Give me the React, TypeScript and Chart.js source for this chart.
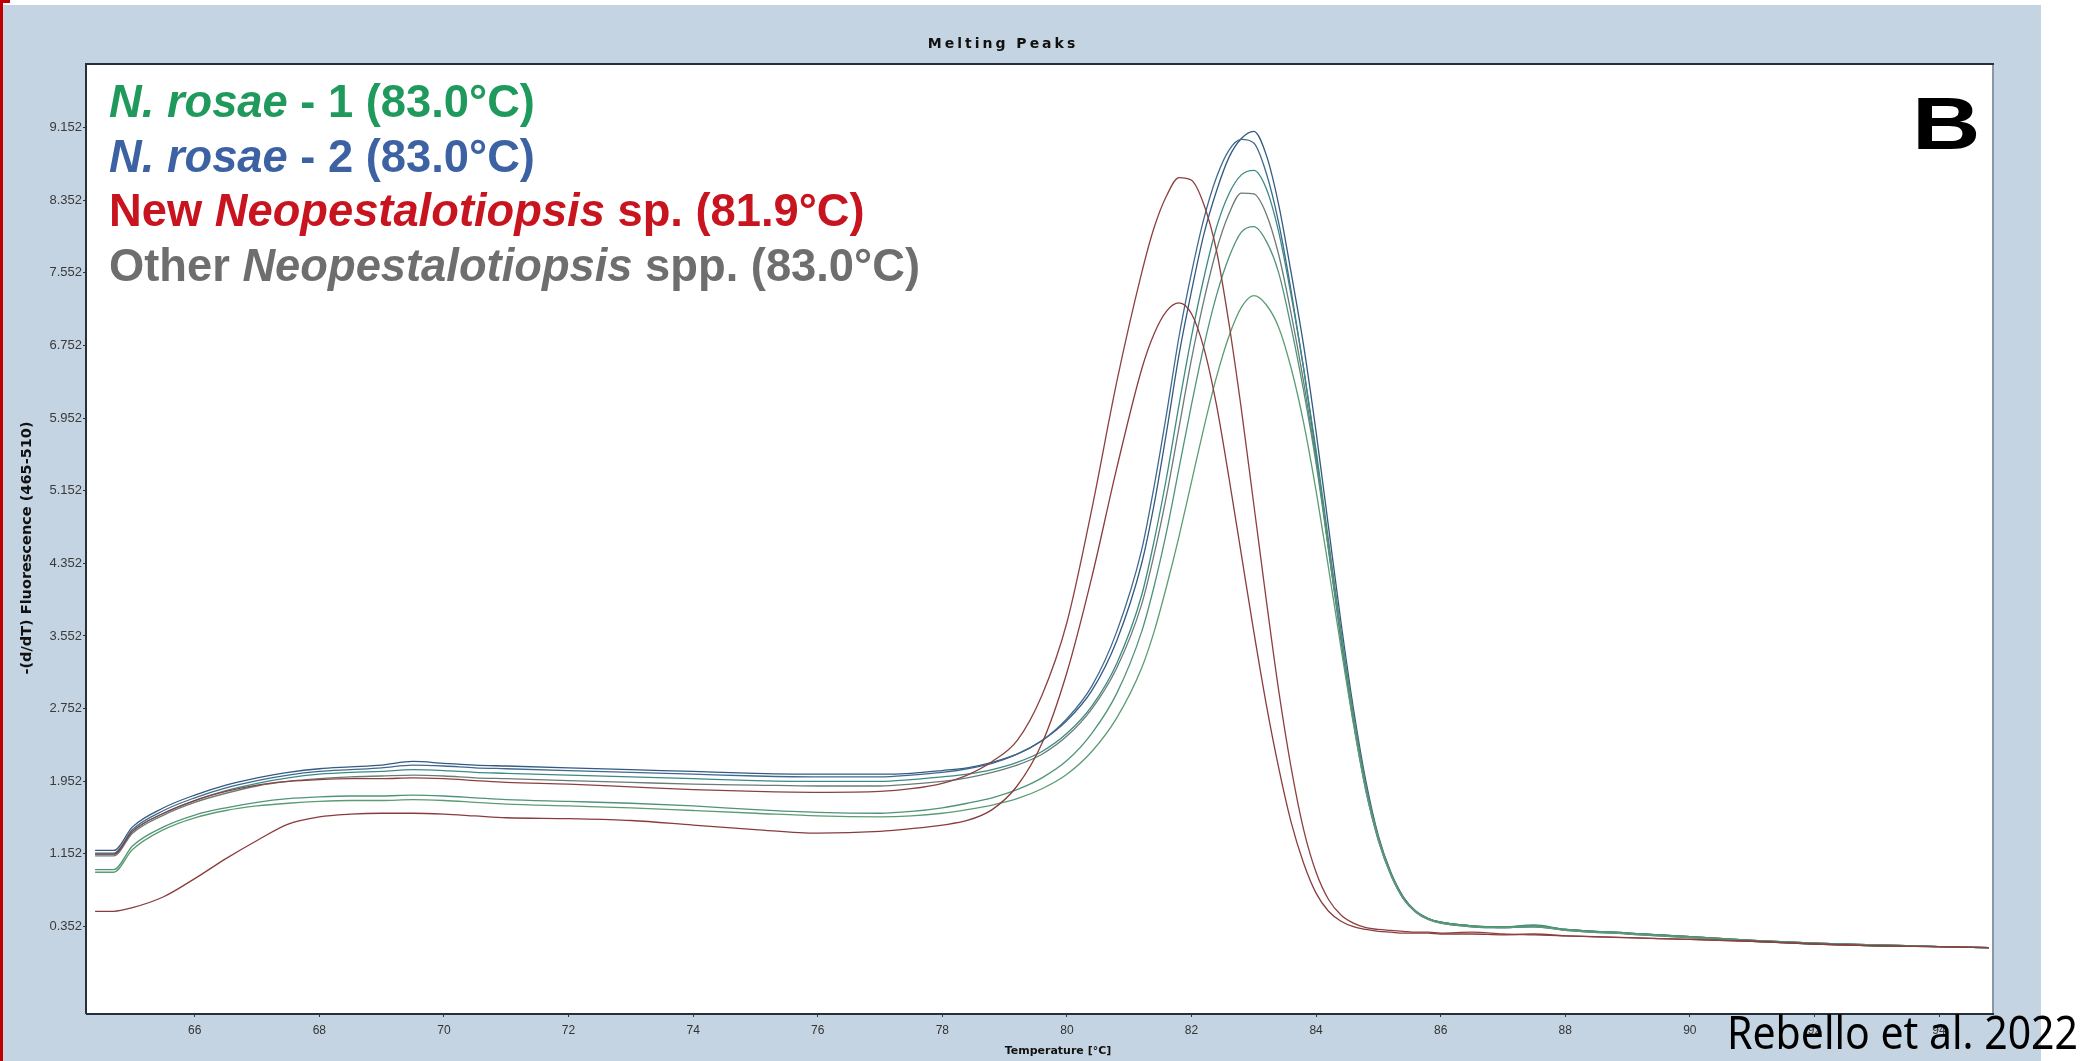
import React, { useEffect, useRef } from "react";
import { Chart, registerables } from "chart.js";

Chart.register(...registerables);

// ---------- DATA ----------
const temperatures = [
  64.4, 64.7, 65.0, 65.5, 66.0, 66.5, 67.0, 67.5, 68.0, 68.5,
  69.0, 69.5, 70.0, 70.5, 71.0, 72.0, 73.0, 74.0, 75.0, 76.0,
  77.0, 77.5, 78.0, 78.4, 78.8, 79.2, 79.6, 80.0, 80.4, 80.8,
  81.2, 81.4, 81.6, 81.8, 82.0, 82.2, 82.4, 82.6, 82.8, 83.0,
  83.2, 83.4, 83.6, 83.8, 84.0, 84.2, 84.4, 84.6, 84.8, 85.0,
  85.2, 85.4, 85.6, 85.8, 86.0, 86.5, 87.0, 87.5, 88.0, 89.0,
  90.0, 91.0, 92.0, 93.0, 94.0, 94.8,
];

// N. rosae - 2 (two samples)
const rosae2a = [
  1.19, 1.19, 1.45, 1.66, 1.80, 1.91, 1.99, 2.05, 2.09, 2.11,
  2.13, 2.17, 2.15, 2.13, 2.12, 2.10, 2.08, 2.06, 2.04, 2.03,
  2.03, 2.04, 2.07, 2.10, 2.16, 2.25, 2.40, 2.62, 2.95, 3.50,
  4.35, 5.00, 5.80, 6.65, 7.35, 7.98, 8.45, 8.82, 9.03, 9.11,
  8.85, 8.30, 7.55, 6.75, 5.80, 4.75, 3.70, 2.75, 1.95, 1.35,
  0.95, 0.68, 0.52, 0.44, 0.40, 0.36, 0.34, 0.36, 0.32, 0.28,
  0.24, 0.20, 0.17, 0.15, 0.13, 0.12,
];
const rosae2b = [
  1.16, 1.16, 1.42, 1.63, 1.77, 1.88, 1.96, 2.02, 2.06, 2.08,
  2.10, 2.13, 2.12, 2.10, 2.09, 2.07, 2.05, 2.03, 2.01, 2.00,
  2.00, 2.02, 2.05, 2.09, 2.15, 2.25, 2.40, 2.64, 3.00, 3.60,
  4.50, 5.20, 6.00, 6.85, 7.55, 8.15, 8.60, 8.90, 9.02, 8.98,
  8.65, 8.10, 7.35, 6.50, 5.55, 4.50, 3.50, 2.60, 1.85, 1.30,
  0.92, 0.66, 0.51, 0.43, 0.39, 0.35, 0.34, 0.35, 0.31, 0.27,
  0.23, 0.19, 0.16, 0.14, 0.13, 0.12,
];
// N. rosae - 1 (two samples)
const rosae1a = [
  1.15, 1.15, 1.40, 1.60, 1.74, 1.85, 1.93, 1.99, 2.03, 2.05,
  2.06, 2.08, 2.07, 2.05, 2.04, 2.02, 2.00, 1.98, 1.96, 1.95,
  1.95, 1.97, 2.00, 2.03, 2.08, 2.16, 2.28, 2.48, 2.78, 3.25,
  4.00, 4.60, 5.30, 6.10, 6.85, 7.50, 8.05, 8.42, 8.63, 8.68,
  8.48, 8.00, 7.30, 6.50, 5.60, 4.60, 3.60, 2.68, 1.90, 1.33,
  0.94, 0.67, 0.52, 0.44, 0.40, 0.36, 0.35, 0.37, 0.32, 0.28,
  0.24, 0.20, 0.17, 0.15, 0.13, 0.12,
];
const rosae1b = [
  0.98, 0.98, 1.24, 1.45, 1.58, 1.66, 1.72, 1.76, 1.78, 1.79,
  1.79, 1.80, 1.79, 1.77, 1.75, 1.73, 1.71, 1.68, 1.64, 1.61,
  1.60, 1.62, 1.66, 1.71, 1.77, 1.86, 1.99, 2.18, 2.48, 2.92,
  3.60, 4.10, 4.70, 5.40, 6.10, 6.75, 7.30, 7.72, 8.00, 8.06,
  7.90, 7.55, 6.95, 6.25, 5.45, 4.50, 3.55, 2.65, 1.88, 1.32,
  0.93, 0.66, 0.52, 0.44, 0.40, 0.36, 0.35, 0.36, 0.32, 0.28,
  0.24, 0.20, 0.17, 0.15, 0.13, 0.12,
];
// Other Neopestalotiopsis spp. (two samples)
const otherA = [
  1.13, 1.13, 1.38, 1.58, 1.72, 1.82, 1.90, 1.95, 1.98, 2.00,
  2.01, 2.02, 2.01, 1.99, 1.98, 1.96, 1.94, 1.92, 1.91, 1.90,
  1.90, 1.92, 1.95, 1.99, 2.05, 2.13, 2.25, 2.45, 2.75, 3.20,
  3.90, 4.45, 5.10, 5.85, 6.60, 7.25, 7.80, 8.20, 8.43, 8.42,
  8.20, 7.75, 7.10, 6.35, 5.50, 4.55, 3.58, 2.68, 1.90, 1.33,
  0.94, 0.67, 0.52, 0.44, 0.40, 0.36, 0.35, 0.36, 0.32, 0.28,
  0.24, 0.20, 0.17, 0.15, 0.13, 0.12,
];
const otherB = [
  0.95, 0.95, 1.20, 1.42, 1.55, 1.63, 1.68, 1.71, 1.73, 1.74,
  1.74, 1.75, 1.74, 1.72, 1.70, 1.68, 1.66, 1.63, 1.60, 1.57,
  1.56, 1.57, 1.60, 1.64, 1.69, 1.76, 1.87, 2.03, 2.28, 2.65,
  3.20, 3.60, 4.10, 4.65, 5.25, 5.85, 6.40, 6.85, 7.17, 7.30,
  7.20, 6.95, 6.50, 5.90, 5.15, 4.30, 3.42, 2.58, 1.84, 1.30,
  0.92, 0.66, 0.51, 0.43, 0.39, 0.35, 0.34, 0.35, 0.31, 0.27,
  0.23, 0.19, 0.16, 0.14, 0.13, 0.12,
];
// New Neopestalotiopsis sp. (two samples)
const newSpA = [
  1.15, 1.15, 1.40, 1.60, 1.74, 1.84, 1.91, 1.95, 1.97, 1.98,
  1.98, 1.99, 1.98, 1.96, 1.94, 1.92, 1.89, 1.86, 1.84, 1.83,
  1.84, 1.87, 1.93, 2.02, 2.17, 2.40, 2.90, 3.70, 4.95, 6.35,
  7.55, 8.05, 8.40, 8.60, 8.57, 8.30, 7.80, 7.00, 6.05, 5.00,
  3.95, 2.95, 2.10, 1.42, 0.95, 0.65, 0.48, 0.39, 0.34, 0.32,
  0.31, 0.30, 0.29, 0.29, 0.28, 0.29, 0.27, 0.26, 0.25, 0.23,
  0.21, 0.19, 0.16, 0.14, 0.13, 0.12,
];
const newSpB = [
  0.52, 0.52, 0.56, 0.68, 0.88, 1.10, 1.30, 1.48, 1.56, 1.59,
  1.60, 1.60, 1.59, 1.57, 1.55, 1.54, 1.52, 1.47, 1.42, 1.38,
  1.40, 1.43, 1.47, 1.52, 1.64, 1.90, 2.37, 3.15, 4.20, 5.40,
  6.49, 6.88, 7.13, 7.22, 7.10, 6.72, 6.10, 5.30, 4.45, 3.60,
  2.80, 2.10, 1.50, 1.05, 0.72, 0.52, 0.41, 0.35, 0.32, 0.30,
  0.29, 0.28, 0.28, 0.28, 0.27, 0.27, 0.26, 0.27, 0.25, 0.23,
  0.21, 0.19, 0.16, 0.14, 0.13, 0.12,
];

const xTickValues = [66, 68, 70, 72, 74, 76, 78, 80, 82, 84, 86, 88, 90, 92, 94];
const yTickValues = [0.352, 1.152, 1.952, 2.752, 3.552, 4.352, 5.152, 5.952, 6.752, 7.552, 8.352, 9.152];

const chartTitle = "Melting Peaks";
const xAxisTitle = "Temperature [°C]";
const yAxisTitle = "-(d/dT) Fluorescence (465-510)";
const panelLetter = "B";
const creditText = "Rebello et al. 2022";

type Seg = { t: string; i: boolean };
const legendEntries: { color: string; segs: Seg[] }[] = [
  { color: "#1f9a5c", segs: [{ t: "N. rosae", i: true }, { t: " - 1 (83.0°C)", i: false }] },
  { color: "#3d62a3", segs: [{ t: "N. rosae", i: true }, { t: " - 2 (83.0°C)", i: false }] },
  { color: "#c8141f", segs: [{ t: "New ", i: false }, { t: "Neopestalotiopsis", i: true }, { t: " sp. (81.9°C)", i: false }] },
  { color: "#6e6e6e", segs: [{ t: "Other ", i: false }, { t: "Neopestalotiopsis", i: true }, { t: " spp. (83.0°C)", i: false }] },
];

const seriesList = [
  { label: "New Neopestalotiopsis sp. A", values: newSpA, color: "#8c4040" },
  { label: "New Neopestalotiopsis sp. B", values: newSpB, color: "#8a3c3c" },
  { label: "Other Neopestalotiopsis spp. B", values: otherB, color: "#5c9c72" },
  { label: "N. rosae - 1 B", values: rosae1b, color: "#4f9478" },
  { label: "Other Neopestalotiopsis spp. A", values: otherA, color: "#6a7c76" },
  { label: "N. rosae - 1 A", values: rosae1a, color: "#3d8a84" },
  { label: "N. rosae - 2 B", values: rosae2b, color: "#3f6990" },
  { label: "N. rosae - 2 A", values: rosae2a, color: "#345a80" },
];

const X_MIN = 64.27;
const X_MAX = 94.85;
const Y_MIN = -0.6;
const Y_MAX = 9.84;

const decorPlugin = {
  id: "decor",
  beforeDraw(chart: any) {
    const { ctx, chartArea, width, height } = chart;
    ctx.save();
    ctx.fillStyle = "#ffffff";
    ctx.fillRect(0, 0, width, height);
    ctx.fillStyle = "#c5d4e2";
    ctx.fillRect(3, 5, 2041 - 3, height - 5);
    ctx.fillStyle = "#c00000";
    ctx.fillRect(0, 0, 3, height);
    ctx.fillRect(0, 0, 10, 3);
    ctx.fillStyle = "#ffffff";
    ctx.fillRect(chartArea.left, chartArea.top, chartArea.right - chartArea.left, chartArea.bottom - chartArea.top);
    ctx.restore();
  },
  afterDraw(chart: any) {
    const { ctx, chartArea } = chart;
    const { left, top, right, bottom } = chartArea;
    ctx.save();
    ctx.lineWidth = 2;
    ctx.strokeStyle = "#8a98a6";
    ctx.beginPath();
    ctx.moveTo(right + 1, top);
    ctx.lineTo(right + 1, bottom);
    ctx.stroke();
    ctx.strokeStyle = "#26303c";
    ctx.beginPath();
    ctx.moveTo(left - 1, bottom + 1);
    ctx.lineTo(left - 1, top - 1);
    ctx.lineTo(right + 2, top - 1);
    ctx.moveTo(left - 1, bottom + 1);
    ctx.lineTo(right + 2, bottom + 1);
    ctx.stroke();

    ctx.fillStyle = "#111111";
    ctx.font = 'bold 14px "DejaVu Sans", sans-serif';
    (ctx as any).letterSpacing = "3px";
    ctx.textAlign = "center";
    ctx.textBaseline = "middle";
    ctx.fillText(chartTitle, 1003, 44);
    (ctx as any).letterSpacing = "0px";

    ctx.font = 'bold 11px "DejaVu Sans", sans-serif';
    ctx.fillText(xAxisTitle, 1058, 1051);
    ctx.save();
    ctx.translate(27, 548);
    ctx.rotate(-Math.PI / 2);
    ctx.font = 'bold 14.5px "DejaVu Sans", sans-serif';
    ctx.fillText(yAxisTitle, 0, 0);
    ctx.restore();

    ctx.textAlign = "left";
    ctx.textBaseline = "alphabetic";
    legendEntries.forEach((entry, k) => {
      let x = 109;
      const y = 117 + k * 54.5;
      ctx.fillStyle = entry.color;
      entry.segs.forEach((s) => {
        ctx.font = `${s.i ? "italic " : ""}bold 45.3px "Liberation Sans", Arial, sans-serif`;
        ctx.fillText(s.t, x, y);
        x += ctx.measureText(s.t).width;
      });
    });

    ctx.save();
    ctx.fillStyle = "#000000";
    ctx.font = 'bold 74px "Liberation Sans", Arial, sans-serif';
    ctx.translate(1912, 149);
    ctx.scale(1.28, 1);
    ctx.fillText(panelLetter, 0, 0);
    ctx.restore();

    ctx.fillStyle = "#000000";
    ctx.font = '46px "Liberation Sans Narrow", "Noto Sans", sans-serif';
    const w = ctx.measureText(creditText).width;
    ctx.translate(1727, 1049);
    ctx.scale(351 / w, 1);
    ctx.fillText(creditText, 0, 0);
    ctx.restore();
  },
};

export default function App() {
  const canvasRef = useRef<HTMLCanvasElement | null>(null);

  useEffect(() => {
    const canvas = canvasRef.current;
    if (!canvas) return;
    const datasets = seriesList.map((s) => ({
      label: s.label,
      data: temperatures.map((t, i) => ({ x: t, y: s.values[i] })),
      borderColor: s.color,
      borderWidth: 1.3,
      pointRadius: 0,
      fill: false,
      cubicInterpolationMode: "monotone" as const,
    }));
    const chart = new Chart(canvas, {
      type: "line",
      data: { datasets },
      options: {
        animation: false,
        responsive: false,
        devicePixelRatio: 1,
        layout: { padding: { top: 65, right: 94, left: 0, bottom: 0 } },
        plugins: { legend: { display: false }, tooltip: { enabled: false }, title: { display: false } },
        scales: {
          x: {
            type: "linear",
            min: X_MIN,
            max: X_MAX,
            afterFit: (scale: any) => { scale.height = 48; },
            afterBuildTicks: (scale: any) => { scale.ticks = xTickValues.map((v) => ({ value: v })); },
            grid: { drawOnChartArea: false, drawTicks: true, tickLength: 4, tickColor: "#333" },
            border: { display: false },
            ticks: {
              color: "#333333",
              font: { family: '"Liberation Sans", Arial, sans-serif', size: 12 },
              padding: 6,
              maxRotation: 0,
              autoSkip: false,
              callback: (v: any) => String(v),
            },
          },
          y: {
            type: "linear",
            min: Y_MIN,
            max: Y_MAX,
            afterFit: (scale: any) => { scale.width = 87; },
            afterBuildTicks: (scale: any) => { scale.ticks = yTickValues.map((v) => ({ value: v })); },
            grid: { drawOnChartArea: false, drawTicks: true, tickLength: 4, tickColor: "#333" },
            border: { display: false },
            ticks: {
              color: "#3a3a3a",
              font: { family: '"Liberation Sans", Arial, sans-serif', size: 13 },
              padding: 1,
              autoSkip: false,
              callback: (v: any) => Number(v).toFixed(3),
            },
          },
        },
      },
      plugins: [decorPlugin],
    });
    return () => chart.destroy();
  }, []);

  return (
    <div style={{ position: "absolute", left: 0, top: 0, width: 2086, height: 1061 }}>
      <canvas ref={canvasRef} width={2086} height={1061} style={{ display: "block" }} />
    </div>
  );
}
